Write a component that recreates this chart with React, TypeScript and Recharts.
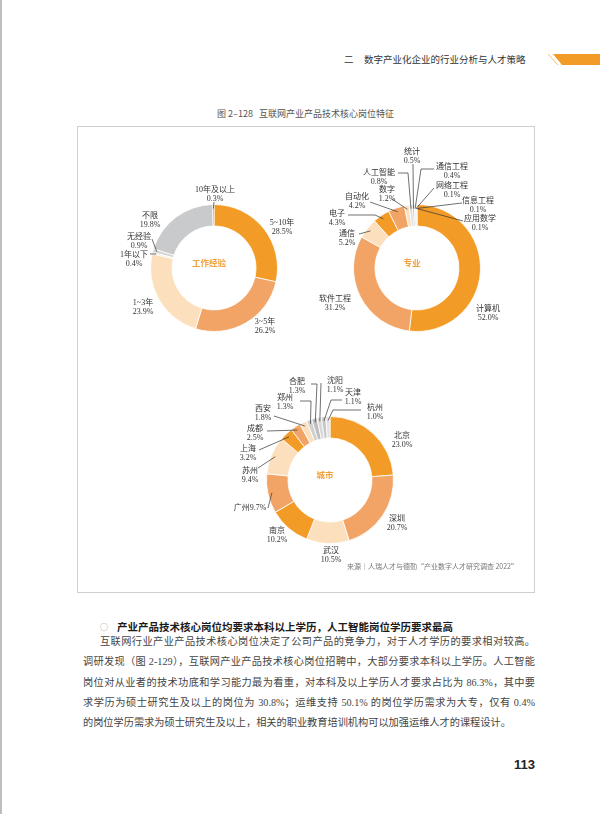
import React from "react";
import { PieChart, Pie, Cell, Label } from "recharts";

// 工作经验
const expNames = ["5~10年", "3~5年", "1~3年", "1年以下", "无经验", "不限", "10年及以上"];
const expValues = [28.5, 26.2, 23.9, 0.4, 0.9, 19.8, 0.3];

// 专业
const majorNames = ["计算机", "软件工程", "通信", "电子", "自动化", "数字", "人工智能", "统计", "通信工程", "网络工程", "信息工程", "应用数学"];
const majorValues = [52.0, 31.2, 5.2, 4.3, 4.2, 1.2, 0.8, 0.5, 0.4, 0.1, 0.1, 0.1];

// 城市
const cityNames = ["北京", "深圳", "武汉", "南京", "广州", "苏州", "上海", "成都", "西安", "郑州", "合肥", "沈阳", "天津", "杭州"];
const cityValues = [23.0, 20.7, 10.5, 10.2, 9.7, 9.4, 3.2, 2.5, 1.8, 1.3, 1.3, 1.1, 1.1, 1.0];

const ORANGE = "#F29B26";
const SALMON = "#F2A466";
const PEACH = "#FCE0BD";

const expColors = [ORANGE, SALMON, PEACH, "#E4E4E4", "#D4D4D4", "#C9CACC", "#7F7F7F"];
const majorColors = [ORANGE, SALMON, PEACH, ORANGE, SALMON, PEACH, "#DDDDDD", "#C4C4C4", "#D6D6D6", "#A6A6A6", "#BFBFBF", "#8C8C8C"];
const cityColors = [ORANGE, SALMON, PEACH, ORANGE, SALMON, PEACH, ORANGE, SALMON, PEACH, "#D0D0D0", "#BEBEBE", "#D8D8D8", "#C6C6C6", "#E2E2E2"];

// label placement, relative to the donut centre
type Spec = { x: number; y: number; line?: number[][]; single?: boolean };

const expLabels: Spec[] = [
  { x: 68, y: -46 },
  { x: 51, y: 53 },
  { x: -71, y: 34 },
  { x: -80, y: -14, line: [[-64, -14]] },
  { x: -75, y: -32, line: [[-62, -29]] },
  { x: -64, y: -53 },
  { x: 1, y: -79, line: [[0, -66]] },
];

const majorLabels: Spec[] = [
  { x: 71, y: 40 },
  { x: -82, y: 30 },
  { x: -70, y: -35, line: [[-58, -34]] },
  { x: -80, y: -55, line: [[-69, -53], [-42, -53]] },
  { x: -60, y: -72, line: [[-47, -66]] },
  { x: -30, y: -79, line: [[-25, -69]] },
  { x: -38, y: -96, line: [[-19, -95], [-9, -95]] },
  { x: -5, y: -117, line: [[-4, -104]] },
  { x: 35, y: -102, line: [[17, -99], [4, -99]] },
  { x: 35, y: -83, line: [[17, -80]] },
  { x: 61, y: -68, line: [[45, -65]] },
  { x: 63, y: -50, line: [[46, -47]] },
];

const cityLabels: Spec[] = [
  { x: 72, y: -45 },
  { x: 67, y: 38 },
  { x: 1, y: 70 },
  { x: -53, y: 50 },
  { x: -80, y: 27, single: true, line: [[-62, 28]] },
  { x: -80, y: -10, line: [[-72, -12]] },
  { x: -82, y: -32, line: [[-71, -30]] },
  { x: -75, y: -52, line: [[-63, -49]] },
  { x: -67, y: -72, line: [[-56, -64]] },
  { x: -45, y: -83, line: [[-30, -79], [-19, -79]] },
  { x: -33, y: -99, line: [[-19, -96], [-13, -96]] },
  { x: 5, y: -100, line: [[-9, -97]] },
  { x: 23, y: -88, line: [[12, -80], [1, -80]] },
  { x: 45, y: -73, line: [[31, -70], [3, -70]] },
];

const LABEL_FONT = "'Liberation Serif', 'Noto Sans CJK SC', serif";

const makeLabel = (names: string[], values: number[], specs: Spec[]) => (p: any) => {
  const s = specs[p.index];
  if (!s) return null;
  const cx = Number(p.cx);
  const cy = Number(p.cy);
  const r = p.outerRadius - 4;
  const a = (-p.midAngle * Math.PI) / 180;
  const ex = cx + r * Math.cos(a);
  const ey = cy + r * Math.sin(a);
  const pct = values[p.index].toFixed(1) + "%";
  const tx = cx + s.x;
  const ty = cy + s.y;
  const pts = s.line
    ? [...s.line.map(([dx, dy]) => `${cx + dx},${cy + dy}`), `${ex},${ey}`].join(" ")
    : null;
  const txt = { textAnchor: "middle" as const, dominantBaseline: "central" as const, fontSize: 8, fill: "#333", fontFamily: LABEL_FONT };
  return (
    <g key={"lbl" + p.index}>
      {pts && <polyline points={pts} fill="none" stroke="#333" strokeWidth={0.7} />}
      <text x={tx} y={ty} {...txt}>
        {s.single ? names[p.index] + pct : names[p.index]}
      </text>
      {!s.single && (
        <text x={tx} y={ty + 9} {...txt}>
          {pct}
        </text>
      )}
    </g>
  );
};

const W = 260;
const H = 250;
const CX = 130;
const CY = 125;

function Donut(props: { names: string[]; values: number[]; colors: string[]; specs: Spec[]; title: string; x: number; y: number }) {
  const { names, values, colors, specs, title, x, y } = props;
  const data = names.map((n, i) => ({ name: n, value: values[i] }));
  return (
    <div style={{ position: "absolute", left: x - CX, top: y - CY, willChange: "transform" }}>
      <PieChart width={W} height={H}>
        <Pie
          data={data}
          dataKey="value"
          nameKey="name"
          cx={CX}
          cy={CY}
          innerRadius={42}
          outerRadius={63.5}
          startAngle={90}
          endAngle={-270}
          stroke="#fff"
          strokeWidth={0.8}
          label={makeLabel(names, values, specs)}
          labelLine={false}
          isAnimationActive={false}
        >
          {data.map((d, i) => (
            <Cell key={d.name} fill={colors[i]} />
          ))}
          <Label value={title} position="center" fill="#F0A03C" fontSize={8.5} fontWeight={700} fontFamily="'Noto Sans CJK SC', sans-serif" />
        </Pie>
      </PieChart>
    </div>
  );
}

const bodyLines = [
  "互联网行业产业产品技术核心岗位决定了公司产品的竞争力，对于人才学历的要求相对较高。",
  "调研发现（图 2-129），互联网产业产品技术核心岗位招聘中，大部分要求本科以上学历。人工智能",
  "岗位对从业者的技术功底和学习能力最为看重，对本科及以上学历人才要求占比为 86.3%，其中要",
  "求学历为硕士研究生及以上的岗位为 30.8%；运维支持 50.1% 的岗位学历需求为大专，仅有 0.4%",
  "的岗位学历需求为硕士研究生及以上，相关的职业教育培训机构可以加强运维人才的课程设计。",
];

const SANS = "'Noto Sans CJK SC', sans-serif";
const BODY = "'Liberation Serif', 'Noto Sans CJK SC', serif";

export default function App() {
  return (
    <div style={{ position: "absolute", left: 0, top: 0, width: 600, height: 814, background: "#fff", overflow: "hidden", fontFamily: SANS }}>
      <div style={{ position: "absolute", left: 0, top: 0, width: 1.5, height: 814, background: "#bdbdbd" }} />

      {/* running head */}
      <div style={{ position: "absolute", left: 344, top: 53, fontSize: 9.5, lineHeight: "12px", color: "#333", whiteSpace: "nowrap" }}>二</div>
      <div style={{ position: "absolute", left: 364, top: 53, fontSize: 9.5, lineHeight: "12px", color: "#333", whiteSpace: "nowrap" }}>数字产业化企业的行业分析与人才策略</div>
      <svg style={{ position: "absolute", left: 0, top: 0 }} width={600} height={100}>
        <line x1={548} y1={54} x2={558} y2={65} stroke="#F4C07A" strokeWidth={1} />
        <polygon points="553,54 600,54 600,65 562,65" fill={ORANGE} />
      </svg>

      {/* figure caption */}
      <div style={{ position: "absolute", left: 77, width: 457, top: 108, textAlign: "center", fontSize: 9, lineHeight: "12px", color: "#555", whiteSpace: "nowrap" }}>
        图 2–128&nbsp;&nbsp;&nbsp;互联网产业产品技术核心岗位特征
      </div>

      {/* figure box */}
      <div style={{ position: "absolute", left: 77, top: 126, width: 456, height: 465, border: "1px solid #cfcfcf" }} />

      <Donut names={expNames} values={expValues} colors={expColors} specs={expLabels} title="工作经验" x={209} y={263} />
      <Donut names={majorNames} values={majorValues} colors={majorColors} specs={majorLabels} title="专业" x={412} y={263} />
      <Donut names={cityNames} values={cityValues} colors={cityColors} specs={cityLabels} title="城市" x={325} y={475} />

      <div style={{ position: "absolute", right: 82, top: 561, fontSize: 7, lineHeight: "10px", color: "#777", whiteSpace: "nowrap" }}>
        来源｜人瑞人才与德勤“产业数字人才研究调查 2022”
      </div>

      {/* body text */}
      <div style={{ position: "absolute", left: 100, top: 621, fontSize: 8, lineHeight: "12px", color: "#888" }}>○</div>
      <div style={{ position: "absolute", left: 117, top: 620, fontSize: 10.5, lineHeight: "14px", fontWeight: 700, color: "#1a1a1a", whiteSpace: "nowrap" }}>
        产业产品技术核心岗位均要求本科以上学历，人工智能岗位学历要求最高
      </div>
      {bodyLines.map((t, i) => (
        <div
          key={i}
          style={{
            position: "absolute",
            left: i === 0 ? 100 : 83,
            width: i === 0 ? 435 : 452,
            top: 642 + 20.25 * i - 10,
            height: 20,
            fontSize: 10.2,
            lineHeight: "20px",
            color: "#444",
            fontFamily: BODY,
            whiteSpace: "nowrap",
            textAlign: i < 4 ? "justify" : "left",
            textAlignLast: i < 4 ? "justify" : "left",
          }}
        >
          {t}
        </div>
      ))}

      <div style={{ position: "absolute", right: 65, top: 757, fontSize: 13, lineHeight: "16px", fontWeight: 700, color: "#222", fontFamily: "'Liberation Sans', sans-serif" }}>113</div>
    </div>
  );
}
